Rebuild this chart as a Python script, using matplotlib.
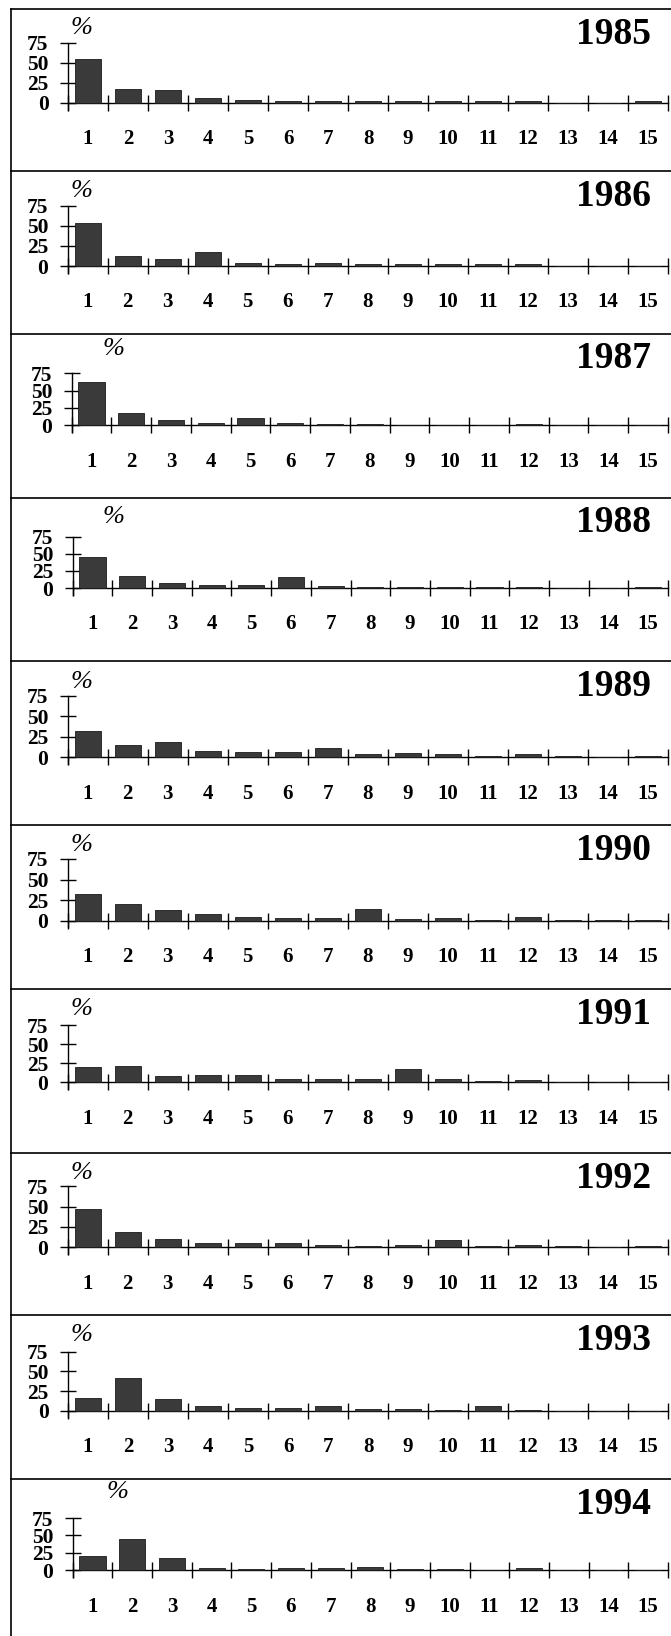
import matplotlib
matplotlib.use("Agg")
import matplotlib.pyplot as plt
from matplotlib.lines import Line2D

# ---------------- data ----------------
categories = list(range(1, 16))
years = ["1985", "1986", "1987", "1988", "1989", "1990", "1991", "1992", "1993", "1994"]
y1985 = [55, 17, 16, 6, 4, 3, 2, 2, 2, 2, 2, 3, 0, 0, 2]
y1986 = [53, 13, 9, 17, 4, 2, 4, 3, 2, 2, 2, 3, 0, 0, 0]
y1987 = [62, 18, 8, 4, 10, 3, 2, 2, 1, 1, 1, 2, 0, 0, 0]
y1988 = [46, 17, 8, 5, 5, 16, 3, 2, 2, 1, 1, 2, 0, 0, 2]
y1989 = [32, 15, 19, 8, 6, 6, 11, 4, 5, 4, 2, 4, 2, 0, 2]
y1990 = [33, 20, 13, 8, 4, 3, 3, 14, 2, 3, 1, 4, 1, 1, 1]
y1991 = [20, 21, 8, 10, 9, 5, 5, 4, 18, 4, 2, 3, 1, 1, 1]
y1992 = [47, 19, 10, 5, 5, 5, 3, 2, 3, 9, 1, 3, 2, 0, 2]
y1993 = [16, 41, 15, 6, 3, 3, 6, 2, 2, 1, 6, 1, 0, 0, 0]
y1994 = [20, 45, 17, 4, 2, 3, 4, 5, 2, 2, 0, 3, 0, 0, 0]
series = [y1985, y1986, y1987, y1988, y1989, y1990, y1991, y1992, y1993, y1994]
yticks = [0, 25, 50, 75]

# ---------------- layout (pixels) ----------------
W, H = 671, 1636
tops = [9, 171, 334, 498, 661, 825, 989, 1153, 1315, 1479]
lvl75 = [43, 205.7, 373.3, 536.7, 695.7, 859, 1025.3, 1186.3, 1351.7, 1518]
base = [103, 266, 425.3, 588, 757.3, 920.7, 1082.3, 1247.3, 1410.7, 1570.3]
xleft = [68, 67.7, 71.7, 72.7, 67.7, 67.7, 67.7, 67.7, 68, 72.7]
xright = 668
pct_xy = [(82, 19), (82, 20), (113, 15), (113, 19), (82, 21), (82, 20),
          (82, 20), (82, 20), (82, 20), (117, 13)]

serif = ["Liberation Serif", "DejaVu Serif"]

fig = plt.figure(figsize=(W / 100, H / 100), dpi=100)
fig.patch.set_facecolor("white")

def fx(x):
    return x / W

def fy(y):
    return 1 - y / H

# frame lines
fig.add_artist(Line2D([fx(11), fx(11)], [fy(tops[0]), fy(H)], color="black", lw=1.2))
for t in tops:
    fig.add_artist(Line2D([fx(11), fx(W)], [fy(t), fy(t)], color="black", lw=1.2))

for i, vals in enumerate(series):
    left = fx(xleft[i])
    width = (xright - xleft[i]) / W
    bottom = fy(base[i])
    height = (base[i] - lvl75[i]) / H
    ax = fig.add_axes([left, bottom, width, height])
    ax.patch.set_alpha(0)
    ax.set_xlim(0.5, 15.5)
    ax.set_ylim(0, 75)
    px_per_unit = (base[i] - lvl75[i]) / 75.0
    ext = 6.5 / px_per_unit
    ax.bar(categories, vals, width=0.66, color="#3a3a3a", edgecolor="#1a1a1a",
           linewidth=0.6, clip_on=False, zorder=3)
    for s in ["top", "right"]:
        ax.spines[s].set_visible(False)
    ax.spines["bottom"].set_position(("data", 0))
    ax.spines["bottom"].set_bounds(0.5, 15.5)
    ax.spines["left"].set_bounds(-ext, 75)
    ax.spines["bottom"].set_linewidth(1.0)
    ax.spines["left"].set_linewidth(1.0)

    ax.set_xticks(categories)
    ax.set_xticklabels([str(c) for c in categories])
    ax.set_xticks([c + 0.5 for c in [0] + categories], minor=True)
    ax.tick_params(axis="x", which="major", length=0, pad=19)
    ax.tick_params(axis="x", which="minor", direction="inout", length=12, width=1.0)
    ax.set_yticks(yticks)
    ax.set_yticklabels([str(v) for v in yticks])
    ax.tick_params(axis="y", which="major", direction="inout", length=12, width=1.0, pad=8)
    for lab in ax.get_xticklabels():
        lab.set_fontfamily(serif)
        lab.set_fontweight("bold")
        lab.set_fontsize(15)
    for lab in ax.get_yticklabels():
        lab.set_fontfamily(serif)
        lab.set_fontweight("bold")
        lab.set_fontsize(15.5)

    # percent sign
    px, py = pct_xy[i]
    fig.text(fx(px), fy(tops[i] + py), "%", family=serif, style="italic",
             fontsize=19, ha="center", va="center")
    # year
    fig.text(fx(651), fy(tops[i] + 25), years[i], family=serif, fontweight="bold",
             fontsize=27, ha="right", va="center")

fig.savefig("out.png", dpi=100, facecolor="white")
